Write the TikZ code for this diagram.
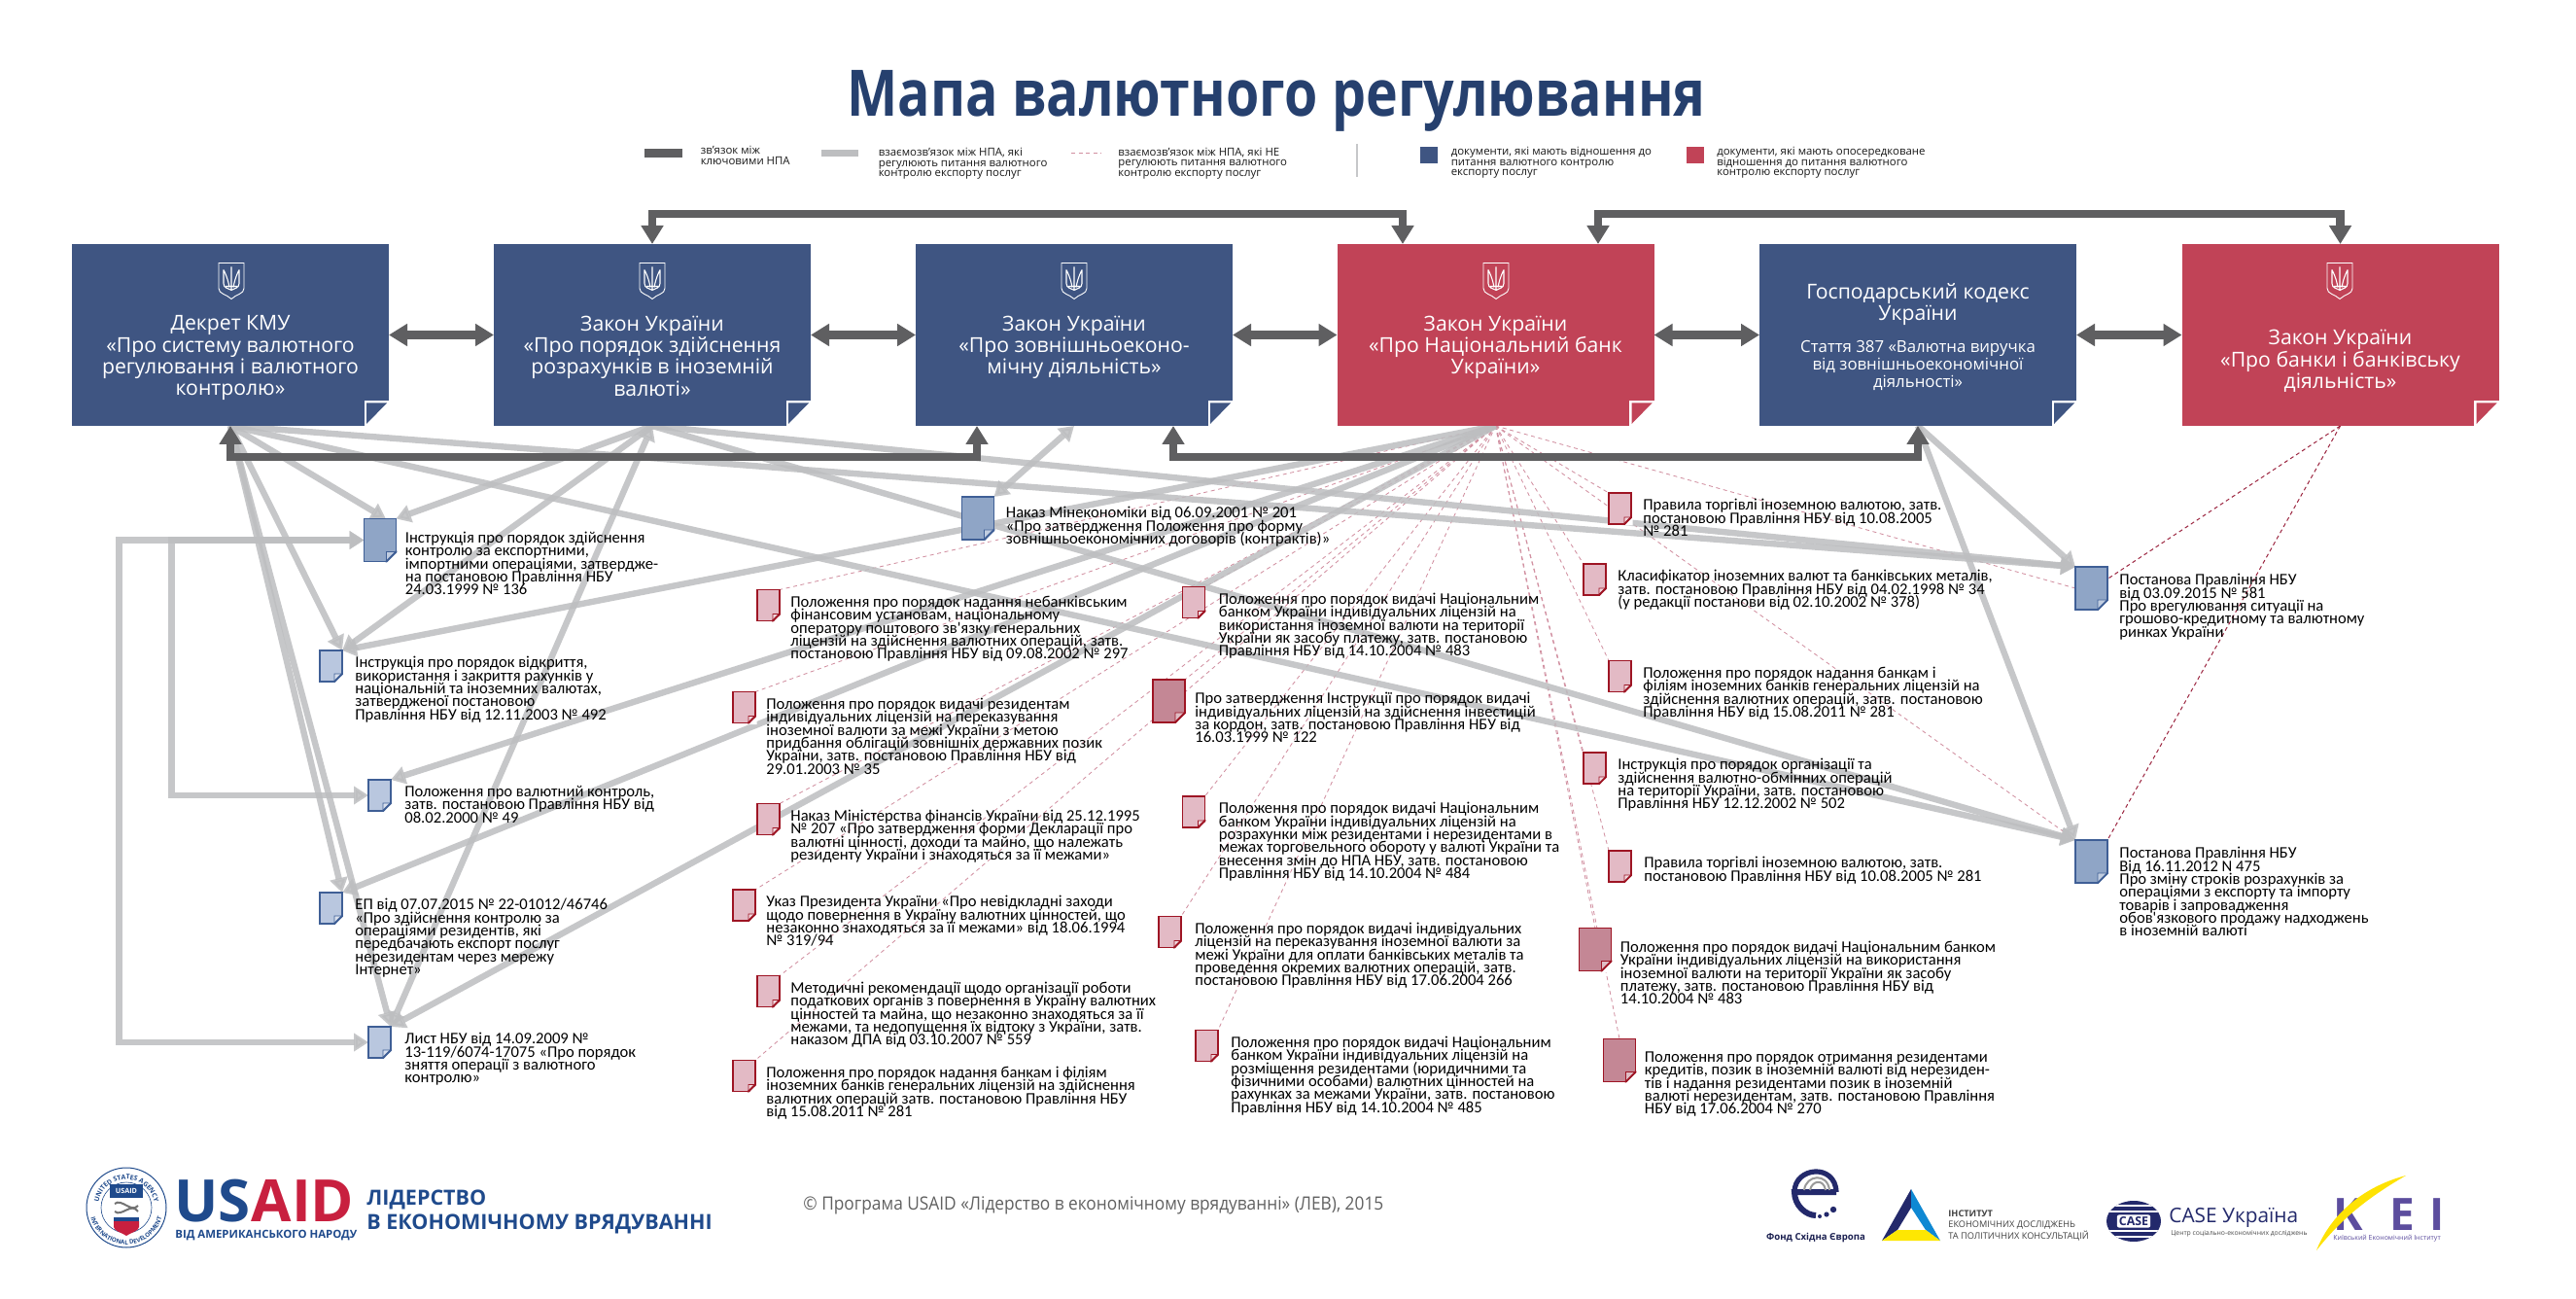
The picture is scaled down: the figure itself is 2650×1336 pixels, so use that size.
\documentclass[tikz,border=0pt]{standalone}
\usepackage{fontspec}
\setmainfont{Open Sans}
\newfontfamily\docfont{Carlito}
\newfontfamily\titlefont[FakeStretch=.84]{Open Sans}
\newfontfamily\copyfont[FakeStretch=.92]{Open Sans}
\usetikzlibrary{positioning,arrows.meta,calc,backgrounds,decorations.text}
\definecolor{navybox}{HTML}{3F5582}
\definecolor{redbox}{HTML}{C14357}
\definecolor{darklink}{HTML}{5F5F61}
\definecolor{lightlink}{HTML}{BDBEC0}
\definecolor{dashpale}{HTML}{D18FA0}
\definecolor{dashdeep}{HTML}{9C2540}
\definecolor{titleblue}{HTML}{26406E}
\definecolor{sheetblue}{HTML}{3F5F96}
\definecolor{sheetred}{HTML}{9E1524}
\definecolor{bluepale}{HTML}{B9C7DF}
\definecolor{bluemid}{HTML}{8FA5C6}
\definecolor{redpale}{HTML}{E3BAC5}
\definecolor{redmid}{HTML}{C48795}
\definecolor{usaidblue}{HTML}{1F4A8C}
\definecolor{usaidred}{HTML}{C8203F}
\definecolor{keipurple}{HTML}{5C4D9E}
\definecolor{foundnavy}{HTML}{23296B}
% tight lines: keep the baseline pitch even
\newcommand{\tightlines}{\lineskiplimit=-20pt\relax}
% sheet corner: name, size, stroke, fill
\newcommand{\sheetfold}[4]{%
  \fill[white] ($(#1.south east)+(1.5,-#2)$) -- ($(#1.south east)+(1.5,1.5)$) -- ($(#1.south east)+(-#2,1.5)$) -- cycle;
  \filldraw[fill=#4!55!white, draw=#3, line width=.35pt] ($(#1.south east)+(0,-#2)$) -- ($(#1.south east)+(-#2,-#2)$) -- ($(#1.south east)+(-#2,0)$) -- cycle;
  \draw[#3, line width=.9pt] ($(#1.south east)+(0,-#2-1)$) -- ($(#1.south east)+(0,-#2)$) -- ($(#1.south east)+(-#2,0)$) -- ($(#1.south east)+(-#2-1,0)$);}
\newcommand{\lawfold}[2]{%
  \fill[white] ($(#1.south east)+(-25.5,-25.5)$) rectangle ($(#1.south east)+(.5,.5)$);
  \fill[#2] ($(#1.south east)+(-23,-23.5)$) -- ($(#1.south east)+(-2,-23.5)$) -- ($(#1.south east)+(-23,-2)$) -- cycle;}
\tikzset{
  tryzub/.pic={
    \draw[white, line width=.45pt] (-13,-18) -- (13,-18) -- (13,8) .. controls (13,14) and (5,14) .. (0,19) .. controls (-5,14) and (-13,14) .. (-13,8) -- cycle;
    \draw[white, line width=.55pt] (0,-14) -- (0,10) (-8,-11) -- (-8,3) .. controls (-8,8) and (-3,8) .. (0,10) .. controls (3,8) and (8,8) .. (8,3) -- (8,-11) (-8,-11) .. controls (-4,-3) and (-3,2) .. (-2,7) (8,-11) .. controls (4,-3) and (3,2) .. (2,7) (-6,6) -- (6,6);
  }
}
\begin{document}
\begin{tikzpicture}[x=.5pt,y=-.5pt,
  lawbox/.style={rectangle, fill=#1, minimum width=163pt, minimum height=93.5pt, inner sep=0pt, outer sep=0pt},
  lawtext/.style={white, align=center, inner sep=0pt, font=\fontsize{10.6}{11.15}\selectfont\tightlines},
  lawsmall/.style={white, align=center, inner sep=0pt, font=\fontsize{8.4}{9}\selectfont\tightlines},
  smallsheet/.style={rectangle, draw=#1, line width=.9pt, minimum width=11.5pt, minimum height=16pt, inner sep=0pt, outer sep=0pt},
  bigsheet/.style={rectangle, draw=#1, line width=.9pt, minimum width=16.5pt, minimum height=22pt, inner sep=0pt, outer sep=0pt},
  doctext/.style={align=left, inner sep=0pt, font=\docfont\fontsize{8.3}{6.67}\selectfont\tightlines},
  legtext/.style={align=left, inner sep=0pt, text=black!90, font=\fontsize{5.7}{5.25}\selectfont\tightlines},
  keylink/.style={{Triangle[length=9.5pt,width=11pt]}-{Triangle[length=9.5pt,width=11pt]}, line width=4.4pt, draw=darklink},
  lightlink/.style={-{Triangle[length=7.5pt,width=9pt]}, line width=3.2pt, draw=lightlink, draw opacity=.85, fill opacity=.85},
  lightboth/.style={lightlink, {Triangle[length=7.5pt,width=9pt]}-{Triangle[length=7.5pt,width=9pt]}},
  palelink/.style={dashed, dash pattern=on 2pt off 1.8pt, line width=.42pt, draw=dashpale},
  deeplink/.style={dashed, dash pattern=on 2pt off 1.6pt, line width=.5pt, draw=dashdeep}]
\path[use as bounding box] (0,0) rectangle (2650,1336);
% title and legend
\node[font=\titlefont\fontsize{33}{36}\bfseries, text=titleblue, inner sep=0pt] (title) at (1313,104) {Мапа валютного регулювання};
\node[rectangle, fill=darklink, minimum width=19.5pt, minimum height=4.5pt, inner sep=0pt] (legkey) at (682.5,157.5) {};
\node[legtext, below right=-1.2pt and 9pt of legkey.north east] (legkeyt) {зв'язок між\\ключовими НПА};
\node[rectangle, fill=lightlink, minimum width=19pt, minimum height=3.5pt, inner sep=0pt] (leglight) at (864,157.5) {};
\node[legtext, below right=-.9pt and 10pt of leglight.north east] (leglightt) {взаємозв'язок між НПА, які\\регулюють питання валютного\\контролю експорту послуг};
\coordinate (legdasha) at (1102,157);
\coordinate (legdashb) at (1133,157);
\draw[palelink] (legdasha) -- (legdashb);
\node[legtext, below right=-2.7pt and 8.5pt of legdashb] (legdasht) {взаємозв'язок між НПА, які НЕ\\регулюють питання валютного\\контролю експорту послуг};
\coordinate (legsepa) at (1396,148);
\coordinate (legsepb) at (1396,182);
\draw[lightlink, -, line width=.6pt] (legsepa) -- (legsepb);
\node[rectangle, fill=navybox, minimum width=9pt, minimum height=8.5pt, inner sep=0pt] (legblue) at (1470,159.5) {};
\node[legtext, below right=.3pt and 6.5pt of legblue.north east] (legbluet) {документи, які мають відношення до\\питання валютного контролю\\експорту послуг};
\node[rectangle, fill=redbox, minimum width=9pt, minimum height=8.5pt, inner sep=0pt] (legred) at (1743.5,159.5) {};
\node[legtext, below right=.3pt and 6.5pt of legred.north east] (legredt) {документи, які мають опосередковане\\відношення до питання валютного\\контролю експорту послуг};
% law boxes
\node[lawbox=navybox] (kmu) at (237,344.5) {}; \lawfold{kmu}{navybox}
\node[lawbox=navybox] (pay) at (671,344.5) {}; \lawfold{pay}{navybox}
\node[lawbox=navybox] (zed) at (1105,344.5) {}; \lawfold{zed}{navybox}
\node[lawbox=redbox] (nbu) at (1538.5,344.5) {}; \lawfold{nbu}{redbox}
\node[lawbox=navybox] (gk) at (1973,344.5) {}; \lawfold{gk}{navybox}
\node[lawbox=redbox] (bank) at (2407.5,344.5) {}; \lawfold{bank}{redbox}
\pic at (238,288.5) {tryzub}; \pic at (671,288.5) {tryzub}; \pic at (1105,288.5) {tryzub};
\pic at (1539,288.5) {tryzub}; \pic at (2407,288.5) {tryzub};
\node[lawtext, below=36.7pt of kmu.north] (kmut) {Декрет КМУ\\«Про систему валютного\\регулювання і валютного\\контролю»};
\node[lawtext, below=36.7pt of pay.north] (payt) {Закон України\\«Про порядок здійснення\\розрахунків в іноземній\\валюті»};
\node[lawtext, below=36.7pt of zed.north] (zedt) {Закон України\\«Про зовнішньоеконо-\\мічну діяльність»};
\node[lawtext, below=36.7pt of nbu.north] (nbut) {Закон України\\«Про Національний банк\\України»};
\node[lawtext, below=20pt of gk.north] (gkt) {Господарський кодекс\\України};
\node[lawsmall, below=7.5pt of gkt] (gkart) {Стаття 387 «Валютна виручка\\від зовнішньоекономічної\\діяльності»};
\node[lawtext, below=44pt of bank.north] (bankt) {Закон України\\«Про банки і банківську\\діяльність»};
% blue sheets
\node[bigsheet=sheetblue, fill=bluemid] (i136) at (391,555.5) {}; \sheetfold{i136}{10}{sheetblue}{bluemid}
\node[doctext, below right=6.5pt and 4.5pt of i136.north east] (i136t) {Інструкція про порядок здійснення\\контролю за експортними,\\імпортними операціями, затвердже-\\на постановою Правління НБУ\\24.03.1999 № 136};
\node[smallsheet=sheetblue, fill=bluepale] (i492) at (340.5,685) {}; \sheetfold{i492}{8}{sheetblue}{bluepale}
\node[doctext, below right=3pt and 6.5pt of i492.north east] (i492t) {Інструкція про порядок відкриття,\\використання і закриття рахунків у\\національній та іноземних валютах,\\затвердженої постановою\\Правління НБУ від 12.11.2003 № 492};
\node[smallsheet=sheetblue, fill=bluepale] (pv49) at (390.5,818) {}; \sheetfold{pv49}{8}{sheetblue}{bluepale}
\node[doctext, below right=3pt and 7pt of pv49.north east] (pv49t) {Положення про валютний контроль,\\затв. постановою Правління НБУ від\\08.02.2000 № 49};
\node[smallsheet=sheetblue, fill=bluepale] (ep) at (340.5,934) {}; \sheetfold{ep}{8}{sheetblue}{bluepale}
\node[doctext, below right=3pt and 6.5pt of ep.north east] (ept) {ЕП від 07.07.2015 № 22-01012/46746\\«Про здійснення контролю за\\операціями резидентів, які\\передбачають експорт послуг\\нерезидентам через мережу\\Інтернет»};
\node[smallsheet=sheetblue, fill=bluepale] (lyst) at (390.5,1072) {}; \sheetfold{lyst}{8}{sheetblue}{bluepale}
\node[doctext, below right=3pt and 7pt of lyst.north east] (lystt) {Лист НБУ від 14.09.2009 №\\13-119/6074-17075 «Про порядок\\зняття операції з валютного\\контролю»};
\node[bigsheet=sheetblue, fill=bluemid] (nk201) at (1006,533) {}; \sheetfold{nk201}{10}{sheetblue}{bluemid}
\node[doctext, below right=5pt and 6pt of nk201.north east] (nk201t) {Наказ Мінекономіки від 06.09.2001 № 201\\«Про затвердження Положення про форму\\зовнішньоекономічних договорів (контрактів)»};
\node[bigsheet=sheetblue, fill=bluemid] (post581) at (2151.5,605) {}; \sheetfold{post581}{10}{sheetblue}{bluemid}
\node[doctext, below right=3.5pt and 6pt of post581.north east] (post581t) {Постанова Правління НБУ\\від 03.09.2015 № 581\\Про врегулювання ситуації на\\грошово-кредитному та  валютному\\ринках України};
\node[bigsheet=sheetblue, fill=bluemid] (post475) at (2151.5,886) {}; \sheetfold{post475}{10}{sheetblue}{bluemid}
\node[doctext, below right=3.5pt and 6pt of post475.north east] (post475t) {Постанова Правління НБУ\\Від 16.11.2012 N 475\\Про зміну строків розрахунків за\\операціями з експорту та імпорту\\товарів і запровадження\\обов'язкового продажу надходжень\\в іноземній валюті};
% red sheets
\node[smallsheet=sheetred, fill=redpale] (p297) at (790.5,622.5) {}; \sheetfold{p297}{7}{sheetred}{redpale}
\node[doctext, below right=3pt and 5.5pt of p297.north east] (p297t) {Положення про порядок надання небанківським\\фінансовим установам, національному\\оператору поштового зв'язку генеральних\\ліцензій на здійснення валютних операцій, затв.\\постановою Правління НБУ від 09.08.2002 № 297};
\node[smallsheet=sheetred, fill=redpale] (p35) at (765.5,727.5) {}; \sheetfold{p35}{7}{sheetred}{redpale}
\node[doctext, below right=3pt and 5.5pt of p35.north east] (p35t) {Положення про порядок видачі резидентам\\індивідуальних ліцензій на переказування\\іноземної валюти за межі України з метою\\придбання облігацій зовнішніх державних позик\\України, затв. постановою Правління НБУ від\\29.01.2003 № 35};
\node[smallsheet=sheetred, fill=redpale] (n207) at (790.5,842.5) {}; \sheetfold{n207}{7}{sheetred}{redpale}
\node[doctext, below right=3pt and 5.5pt of n207.north east] (n207t) {Наказ Міністерства фінансів України від 25.12.1995\\№ 207 «Про затвердження форми Декларації про\\валютні цінності, доходи та майно, що належать\\резиденту України і знаходяться за її межами»};
\node[smallsheet=sheetred, fill=redpale] (uk319) at (765.5,931) {}; \sheetfold{uk319}{7}{sheetred}{redpale}
\node[doctext, below right=3pt and 5.5pt of uk319.north east] (uk319t) {Указ Президента України «Про невідкладні заходи\\щодо повернення в Україну валютних цінностей, що\\незаконно знаходяться за її межами» від 18.06.1994\\№ 319/94};
\node[smallsheet=sheetred, fill=redpale] (mr559) at (790.5,1019.5) {}; \sheetfold{mr559}{7}{sheetred}{redpale}
\node[doctext, below right=3pt and 5.5pt of mr559.north east] (mr559t) {Методичні рекомендації щодо організації роботи\\податкових органів з повернення в Україну валютних\\цінностей та майна, що незаконно знаходяться за її\\межами, та недопущення їх відтоку з України, затв.\\наказом ДПА від 03.10.2007 № 559};
\node[smallsheet=sheetred, fill=redpale] (p281a) at (765.5,1106.5) {}; \sheetfold{p281a}{7}{sheetred}{redpale}
\node[doctext, below right=3pt and 5.5pt of p281a.north east] (p281at) {Положення про порядок надання банкам і філіям\\іноземних банків генеральних ліцензій на здійснення\\валютних операцій затв. постановою Правління НБУ\\від 15.08.2011 № 281};
\node[smallsheet=sheetred, fill=redpale] (p483a) at (1228,619.5) {}; \sheetfold{p483a}{7}{sheetred}{redpale}
\node[doctext, below right=3pt and 7pt of p483a.north east] (p483at) {Положення про порядок видачі Національним\\банком України індивідуальних ліцензій на\\використання іноземної валюти на території\\України як засобу платежу, затв. постановою\\Правління НБУ від 14.10.2004 № 483};
\node[bigsheet=sheetred, fill=redmid] (i122) at (1202.5,721) {}; \sheetfold{i122}{10}{sheetred}{redmid}
\node[doctext, below right=6.5pt and 5pt of i122.north east] (i122t) {Про затвердження Інструкції про порядок видачі\\індивідуальних ліцензій на здійснення інвестицій\\за кордон, затв. постановою Правління НБУ від\\16.03.1999 № 122};
\node[smallsheet=sheetred, fill=redpale] (p484) at (1228,835) {}; \sheetfold{p484}{7}{sheetred}{redpale}
\node[doctext, below right=3pt and 7pt of p484.north east] (p484t) {Положення про порядок видачі Національним\\банком України індивідуальних ліцензій на\\розрахунки між резидентами і нерезидентами в\\межах торговельного обороту у валюті України та\\внесення змін до НПА НБУ, затв. постановою\\Правління НБУ від 14.10.2004 № 484};
\node[smallsheet=sheetred, fill=redpale] (p266) at (1203.5,958.5) {}; \sheetfold{p266}{7}{sheetred}{redpale}
\node[doctext, below right=3pt and 7pt of p266.north east] (p266t) {Положення про порядок видачі індивідуальних\\ліцензій на переказування іноземної валюти за\\межі України для оплати банківських металів та\\проведення окремих валютних операцій, затв.\\постановою Правління НБУ від 17.06.2004 266};
\node[smallsheet=sheetred, fill=redpale] (p485) at (1241.5,1075.5) {}; \sheetfold{p485}{7}{sheetred}{redpale}
\node[doctext, below right=3pt and 6.5pt of p485.north east] (p485t) {Положення про порядок видачі Національним\\банком України індивідуальних ліцензій на\\розміщення резидентами (юридичними та\\фізичними особами) валютних цінностей на\\рахунках за межами України, затв. постановою\\Правління НБУ від 14.10.2004 № 485};
\node[smallsheet=sheetred, fill=redpale] (pt281a) at (1666.5,523) {}; \sheetfold{pt281a}{7}{sheetred}{redpale}
\node[doctext, below right=3pt and 6pt of pt281a.north east] (pt281at) {Правила торгівлі іноземною валютою, затв.\\постановою Правління НБУ від 10.08.2005\\№ 281};
\node[smallsheet=sheetred, fill=redpale] (kl34) at (1640.5,596) {}; \sheetfold{kl34}{7}{sheetred}{redpale}
\node[doctext, below right=3pt and 6pt of kl34.north east] (kl34t) {Класифікатор іноземних валют та банківських металів,\\затв. постановою Правління НБУ від 04.02.1998 № 34\\(у редакції постанови від 02.10.2002 № 378)};
\node[smallsheet=sheetred, fill=redpale] (p281b) at (1666.5,695.5) {}; \sheetfold{p281b}{7}{sheetred}{redpale}
\node[doctext, below right=3pt and 6pt of p281b.north east] (p281bt) {Положення про порядок надання банкам і\\філіям іноземних банків генеральних ліцензій на\\здійснення валютних операцій, затв. постановою\\Правління НБУ від 15.08.2011 № 281};
\node[smallsheet=sheetred, fill=redpale] (i502) at (1640.5,790) {}; \sheetfold{i502}{7}{sheetred}{redpale}
\node[doctext, below right=3pt and 6pt of i502.north east] (i502t) {Інструкція про порядок організації та\\здійснення валютно-обмінних операцій\\на території України, затв. постановою\\Правління НБУ 12.12.2002 № 502};
\node[smallsheet=sheetred, fill=redpale] (pt281b) at (1666.5,891) {}; \sheetfold{pt281b}{7}{sheetred}{redpale}
\node[doctext, below right=3pt and 6.5pt of pt281b.north east] (pt281bt) {Правила торгівлі іноземною валютою, затв.\\постановою Правління НБУ від 10.08.2005 № 281};
\node[bigsheet=sheetred, fill=redmid] (p483b) at (1641,976.5) {}; \sheetfold{p483b}{10}{sheetred}{redmid}
\node[doctext, below right=6.5pt and 4.5pt of p483b.north east] (p483bt) {Положення про порядок видачі Національним банком\\України індивідуальних ліцензій на використання\\іноземної валюти на території України як засобу\\платежу, затв. постановою Правління НБУ від\\14.10.2004 № 483};
\node[bigsheet=sheetred, fill=redmid] (p270) at (1666,1090.5) {}; \sheetfold{p270}{10}{sheetred}{redmid}
\node[doctext, below right=6.5pt and 4.5pt of p270.north east] (p270t) {Положення про порядок отримання резидентами\\кредитів, позик в іноземній валюті від нерезиден-\\тів і надання резидентами позик в іноземній\\валюті нерезидентам, затв. постановою Правління\\НБУ від 17.06.2004 № 270};
% links go under the sheets
\begin{scope}[on background layer]
\fill[white] (0,0) rectangle (2650,1336);
\draw[palelink] (nbu.south) -- (p297.north east); \draw[palelink] (nbu.south) -- (p35.north east);
\draw[palelink] (nbu.south) -- (n207.north east); \draw[palelink] (nbu.south) -- (uk319.north east);
\draw[palelink] (nbu.south) -- (mr559.north east); \draw[palelink] (nbu.south) -- (p281a.north east);
\draw[palelink] (nbu.south) -- (p483a.north east); \draw[palelink] (nbu.south) -- (i122.north east);
\draw[palelink] (nbu.south) -- (p484.north east); \draw[palelink] (nbu.south) -- (p266.north east);
\draw[palelink] (nbu.south) -- (p485.north east); \draw[palelink] (nbu.south) -- (pt281a.north west);
\draw[palelink] (nbu.south) -- (kl34.north west); \draw[palelink] (nbu.south) -- (p281b.north west);
\draw[palelink] (nbu.south) -- (i502.north west); \draw[palelink] (nbu.south) -- (pt281b.north west);
\draw[palelink] (nbu.south) -- (p483b.north); \draw[palelink] (nbu.south) -- (p270.north);
\draw[palelink] (nbu.south) -- (post581.west); \draw[palelink] (nbu.south) -- (post475.north west);
\draw[deeplink] (bank.south) -- (post581.30); \draw[deeplink] (bank.south) -- (post475.north east);
\draw[lightlink] (kmu.south) -- (i136.75); \draw[lightlink] (kmu.south) -- (i492.north east);
\draw[lightlink] (kmu.south) -- (ep.north east); \draw[lightlink] (kmu.south) -- (lyst.north east);
\draw[lightlink] (kmu.south) -- (post581.north west); \draw[lightlink] (kmu.south) -- (post475.north west);
\draw[lightlink] (pay.south) -- (i136.north east); \draw[lightlink] (pay.south) -- (i492.north east);
\draw[lightboth] (pay.south) -- (lyst.north east); \draw[lightlink] (pay.south) -- (post581.north west);
\draw[lightlink] (pay.south) -- (post475.north west); \draw[lightboth] (zed.south) -- (nk201.north east);
\draw[lightlink] (nbu.south) -- (i492.north east); \draw[lightlink] (nbu.south) -- (pv49.north east);
\draw[lightlink] (nbu.south) -- (ep.north east); \draw[lightlink] (nbu.south) -- (lyst.north east);
\draw[lightlink] (gk.south) -- (post581.north west); \draw[lightlink] (gk.south) -- (post475.north west);
\draw[lightboth] (i136.west) -- ++(-198,0) |- (pv49.west);
\draw[lightboth] (i136.west) -- ++(-252,0) |- (lyst.west);
\end{scope}
% key links
\coordinate (nbutopl) at (1443,251);
\coordinate (nbutopr) at (1644,251);
\coordinate (zedlowl) at (1005,438);
\coordinate (zedlowr) at (1207,438);
\draw[keylink] (pay.north) -- ++(0,-31) -| (nbutopl);
\draw[keylink] (nbutopr) -- ++(0,-31) -| (bank.north);
\draw[keylink] (kmu.south) -- ++(0,32) -| (zedlowl);
\draw[keylink] (zedlowr) -- ++(0,32) -| (gk.south);
\draw[keylink] (kmu.east) -- (pay.west);
\draw[keylink] (pay.east) -- (zed.west);
\draw[keylink] (zed.east) -- (nbu.west);
\draw[keylink] (nbu.east) -- (gk.west);
\draw[keylink] (gk.east) -- (bank.west);
% USAID logo
\draw[usaidblue, line width=.5pt] (130,1242) circle [radius=41];
\draw[usaidblue, line width=.3pt] (130,1242) circle [radius=26];
\path[decorate, decoration={text along path, text align=center, text color=usaidblue, text={|\fontsize{3.4}{4}\bfseries|UNITED STATES AGENCY}}] (101,1242) arc[start angle=180, end angle=360, radius=29];
\path[decorate, decoration={text along path, text align=center, text color=usaidblue, text={|\fontsize{3.1}{4}\bfseries|INTERNATIONAL DEVELOPMENT}}] (92,1242) arc[start angle=180, end angle=0, radius=38];
\node[rectangle, fill=usaidblue, text=white, minimum width=17pt, minimum height=7pt, inner sep=0pt, font=\fontsize{3.6}{4}\bfseries] (sealusaid) at (130,1225) {USAID};
\draw[black!55, line width=1pt] (118,1238) .. controls (125,1232) and (135,1248) .. (142,1240) (118,1246) .. controls (125,1252) and (135,1236) .. (142,1246);
\fill[usaidblue] (117,1252) rectangle (143,1256);
\fill[usaidred] (117,1256) -- (143,1256) -- (143,1262) .. controls (143,1266) and (134,1268) .. (130,1271) .. controls (126,1268) and (117,1266) .. (117,1262) -- cycle;
\node[font=\fontsize{30}{30}\bfseries, text=usaidblue, inner sep=0pt, anchor=base west] (usmark) at (179,1256) {US};
\node[font=\fontsize{30}{30}\bfseries, text=usaidred, inner sep=0pt, anchor=base west] (aidmark) at (usmark.base east) {AID};
\node[font=\fontsize{5.7}{7}\bfseries, text=usaidblue, inner sep=0pt, anchor=west] (usaidsub) at (180,1271) {ВІД АМЕРИКАНСЬКОГО НАРОДУ};
\node[font=\fontsize{10.75}{12.5}\bfseries, text=usaidblue, inner sep=0pt, align=left, anchor=north west] (lev) at (377,1224) {ЛІДЕРСТВО\\В ЕКОНОМІЧНОМУ ВРЯДУВАННІ};
\node[font=\copyfont\fontsize{9.4}{11}\selectfont, text=black!62, inner sep=0pt, anchor=west] (copy) at (826,1240) {© Програма USAID «Лідерство в економічному врядуванні» (ЛЕВ), 2015};
% partner logos
\draw[foundnavy, line width=3pt] (1889,1226) -- (1846,1226) .. controls (1846,1240) and (1858,1250) .. (1868,1250);
\draw[foundnavy, line width=2.6pt] (1846,1226) .. controls (1846,1200) and (1888,1196) .. (1889,1226);
\draw[black!40, line width=1pt] (1856,1224) .. controls (1858,1208) and (1880,1206) .. (1882,1224) (1862,1224) .. controls (1864,1214) and (1876,1212) .. (1878,1224);
\fill[foundnavy] (1872,1251) circle [radius=2] (1879,1249) circle [radius=2.6] (1886,1244) circle [radius=3.2];
\node[font=\fontsize{4.8}{6}\bfseries, text=foundnavy!75!black, inner sep=0pt] (founda) at (1868,1273) {Фонд Східна Європа};
\fill[foundnavy] (1966,1223) -- (1936,1276) -- (1952,1265) -- (1966,1242) -- cycle;
\fill[cyan!70!blue] (1966,1223) -- (1996,1276) -- (1981,1265) -- (1966,1242) -- cycle;
\fill[yellow!90!orange] (1936,1276) -- (1996,1276) -- (1981,1265) -- (1952,1265) -- cycle;
\node[font=\fontsize{4.6}{5.8}\selectfont, text=black!75, inner sep=0pt, align=left, anchor=north west] (ier) at (2004,1244) {\textbf{ІНСТИТУТ}\\ЕКОНОМІЧНИХ ДОСЛІДЖЕНЬ\\ТА ПОЛІТИЧНИХ КОНСУЛЬТАЦІЙ};
\begin{scope}
\clip (2195,1256) ellipse [x radius=28, y radius=21];
\fill[foundnavy] (2160,1230) rectangle (2230,1282);
\draw[white, line width=.8pt] (2160,1240) -- (2230,1240) (2160,1246) -- (2230,1246) (2160,1266) -- (2230,1266) (2160,1272) -- (2230,1272);
\end{scope}
\node[rectangle, rounded corners=1pt, fill=white, text=foundnavy, inner sep=1pt, font=\fontsize{6.2}{7}\bfseries] (casemark) at (2195,1256) {CASE};
\node[font=\fontsize{10.4}{13}\selectfont, text=foundnavy, inner sep=0pt, anchor=west] (casename) at (2231,1252) {CASE Україна};
\node[font=\fontsize{3.4}{5}\selectfont, text=black!70, inner sep=0pt, anchor=west] (casesub) at (2233,1269) {Центр соціально-економічних досліджень};
\node[font=\fontsize{23}{25}\bfseries, text=keipurple, inner sep=0pt, anchor=base west] (keik) at (2400,1265) {K};
\node[font=\fontsize{23}{25}\bfseries, text=keipurple, inner sep=0pt, anchor=base west] (keie) at (2458,1265) {E};
\node[font=\fontsize{23}{25}\bfseries, text=keipurple, inner sep=0pt, anchor=base west] (keii) at (2499,1265) {I};
\fill[yellow!85!orange] (2475,1209) .. controls (2425,1222) and (2395,1255) .. (2383,1286) .. controls (2405,1258) and (2430,1235) .. cycle;
\node[font=\fontsize{3.5}{4}\selectfont, text=keipurple, inner sep=0pt, anchor=west] (keisub) at (2400,1274) {Київський Економічний Інститут};
\end{tikzpicture}
\end{document}
